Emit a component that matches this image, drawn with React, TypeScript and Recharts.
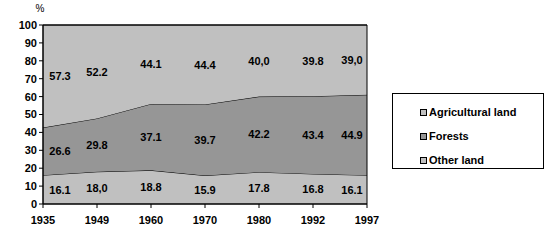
import React from 'react';
import { AreaChart, Area, Line, XAxis, YAxis, Legend, ReferenceArea, LabelList } from 'recharts';

const years = ['1935', '1949', '1960', '1970', '1980', '1992', '1997'];
const agricultural = [16.1, 18.0, 18.8, 15.9, 17.8, 16.8, 16.1];
const forests = [26.6, 29.8, 37.1, 39.7, 42.2, 43.4, 44.9];
const otherLand = [57.3, 52.2, 44.1, 44.4, 40.0, 39.8, 39.0];
// labels as printed on the original (mixed decimal separators)
const agriText = ['16.1', '18,0', '18.8', '15.9', '17.8', '16.8', '16.1'];
const forestText = ['26.6', '29.8', '37.1', '39.7', '42.2', '43.4', '44.9'];
const otherText = ['57.3', '52.2', '44.1', '44.4', '40,0', '39.8', '39,0'];
const yTicks = [0, 10, 20, 30, 40, 50, 60, 70, 80, 90, 100];

const LIGHT = '#c0c0c0';
const DARK = '#969696';
const FONT = '"Liberation Sans", Arial, sans-serif';

const data = years.map((year, i) => ({
  year,
  agri: agricultural[i],
  forest: forests[i],
  other: otherLand[i],
  // band centres, used only to place the value labels
  agriMid: agricultural[i] / 2,
  forestMid: agricultural[i] + forests[i] / 2,
  otherMid: agricultural[i] + forests[i] + otherLand[i] / 2,
}));

const legendItems = [
  { name: 'Agricultural land', color: LIGHT },
  { name: 'Forests', color: DARK },
  { name: 'Other land', color: LIGHT },
];

const makeLabel = (texts: string[]) => (props: any) => {
  const { x, y, index } = props;
  let dx = 0;
  if (index === 0) dx = 17;
  if (index === texts.length - 1) dx = -15;
  return (
    <text
      x={x + dx}
      y={y}
      textAnchor="middle"
      dominantBaseline="central"
      fontSize={11}
      fontWeight="bold"
      fontFamily={FONT}
      fill="#000"
    >
      {texts[index]}
    </text>
  );
};

const LegendBox = () => (
  <div
    style={{
      border: '1px solid #000',
      background: '#fff',
      boxSizing: 'border-box',
      width: 152,
      height: 76,
      paddingTop: 6,
      paddingLeft: 27,
      fontFamily: FONT,
      fontSize: 11,
      fontWeight: 'bold',
    }}
  >
    {legendItems.map((item) => (
      <div key={item.name} style={{ display: 'flex', alignItems: 'center', height: 24 }}>
        <span
          style={{
            display: 'inline-block',
            width: 5,
            height: 5,
            border: '1px solid #000',
            background: item.color,
            marginRight: 2,
          }}
        />
        <span>{item.name}</span>
      </div>
    ))}
  </div>
);

export default function App() {
  const tick = { fontSize: 11, fontWeight: 'bold', fill: '#000', fontFamily: FONT };
  return (
    <div style={{ position: 'absolute', left: 0, top: 0, width: 549, height: 246, background: '#fff' }}>
      <AreaChart
        width={549}
        height={246}
        data={data}
        margin={{ top: 25, right: 182, bottom: 22, left: 0 }}
        style={{ fontFamily: FONT }}
      >
        <XAxis
          dataKey="year"
          height={20}
          tick={tick}
          tickSize={4}
          tickMargin={8}
          axisLine={{ stroke: '#000' }}
          tickLine={{ stroke: '#000' }}
          interval={0}
        />
        <YAxis
          width={43}
          domain={[0, 100]}
          ticks={yTicks}
          tick={tick}
          tickSize={4}
          tickMargin={2}
          axisLine={{ stroke: '#000' }}
          tickLine={{ stroke: '#000' }}
          label={() => (
            <text x={40} y={12} textAnchor="middle" fontSize={10} fontFamily={FONT} fill="#000">
              %
            </text>
          )}
        />
        <Area
          type="linear"
          dataKey="agri"
          name="Agricultural land"
          stackId="1"
          fill={LIGHT}
          fillOpacity={1}
          stroke="#000"
          strokeWidth={1}
          isAnimationActive={false}
        />
        <Area
          type="linear"
          dataKey="forest"
          name="Forests"
          stackId="1"
          fill={DARK}
          fillOpacity={1}
          stroke="#000"
          strokeWidth={1}
          isAnimationActive={false}
        />
        <Area
          type="linear"
          dataKey="other"
          name="Other land"
          stackId="1"
          fill={LIGHT}
          fillOpacity={1}
          stroke="#000"
          strokeWidth={1}
          isAnimationActive={false}
        />
        <Line dataKey="agriMid" stroke="none" dot={false} activeDot={false} legendType="none" isAnimationActive={false}>
          <LabelList dataKey="agriMid" content={makeLabel(agriText)} />
        </Line>
        <Line dataKey="forestMid" stroke="none" dot={false} activeDot={false} legendType="none" isAnimationActive={false}>
          <LabelList dataKey="forestMid" content={makeLabel(forestText)} />
        </Line>
        <Line dataKey="otherMid" stroke="none" dot={false} activeDot={false} legendType="none" isAnimationActive={false}>
          <LabelList dataKey="otherMid" content={makeLabel(otherText)} />
        </Line>
        <ReferenceArea
          x1="1935"
          x2="1997"
          y1={0}
          y2={100}
          fill="none"
          stroke="#000"
          strokeWidth={1}
          ifOverflow="visible"
        />
        <Legend
          layout="vertical"
          align="center"
          verticalAlign="middle"
          content={() => <LegendBox />}
          wrapperStyle={{ left: 392, top: 93, width: 152, height: 76 }}
        />
      </AreaChart>
    </div>
  );
}
